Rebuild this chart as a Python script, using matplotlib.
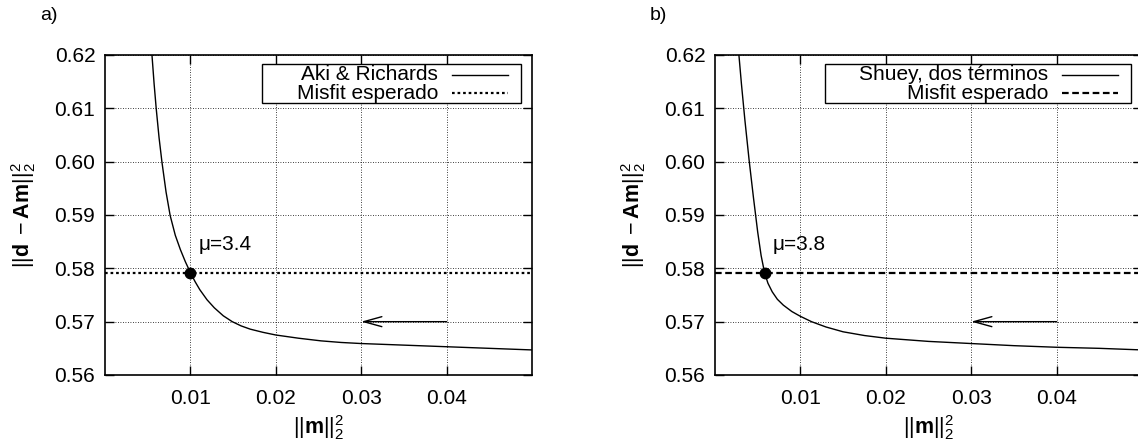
import matplotlib
matplotlib.use("Agg")
import matplotlib.pyplot as plt
from matplotlib.patches import Rectangle

plt.rcParams["font.family"] = ["Liberation Sans", "DejaVu Sans"]
plt.rcParams["mathtext.fontset"] = "custom"
plt.rcParams["mathtext.rm"] = "Liberation Sans"
plt.rcParams["mathtext.it"] = "Liberation Sans:italic"
plt.rcParams["mathtext.bf"] = "Liberation Sans:bold"

# L-curves
aki_x = [0.00550, 0.00575, 0.00600, 0.00633, 0.00667, 0.00715, 0.00763, 0.00823,
         0.00883, 0.00942, 0.01000, 0.01055, 0.01110, 0.01195, 0.01280, 0.01385,
         0.01490, 0.01595, 0.01700, 0.01850, 0.02000, 0.02265, 0.02530, 0.02765,
         0.03000, 0.03500, 0.04000, 0.04500, 0.05000]
aki_y = [0.6200, 0.6146, 0.6099, 0.6045, 0.5999, 0.5943, 0.5899, 0.5862,
         0.5835, 0.5812, 0.5792, 0.5775, 0.5760, 0.5741, 0.5726, 0.5711,
         0.5700, 0.5692, 0.5686, 0.5680, 0.5675, 0.5669, 0.5664, 0.5661,
         0.5659, 0.5656, 0.5653, 0.5650, 0.5647]

shuey_x = [0.0028, 0.0031, 0.0035, 0.0040, 0.0045, 0.0050, 0.0054, 0.0058, 0.0062,
           0.0067, 0.0073, 0.0080, 0.0090, 0.0100, 0.0113, 0.0130, 0.0150, 0.0175,
           0.0200, 0.0250, 0.0300, 0.0350, 0.0400, 0.0450, 0.0500]
shuey_y = [0.6200, 0.6145, 0.6078, 0.6002, 0.5933, 0.5868, 0.5824, 0.5792, 0.5772,
           0.5756, 0.5742, 0.5731, 0.5719, 0.5710, 0.5700, 0.5690, 0.5681, 0.5674,
           0.5669, 0.5663, 0.5659, 0.5655, 0.5652, 0.5650, 0.5647]

misfit = 0.5792
point_a = (0.0100, 0.5792)
point_b = (0.0058, 0.5792)
mu_a = 3.4
mu_b = 3.8
arrow_from = (0.04, 0.57)
arrow_to = (0.03, 0.57)

x_ticks = [0.01, 0.02, 0.03, 0.04]
y_ticks = [0.56, 0.57, 0.58, 0.59, 0.60, 0.61, 0.62]

FS = 15


def draw_panel(ax, xs, ys, point, mu, name, misfit_ls, box_left):
    ax.set_xlim(0, 0.05)
    ax.set_ylim(0.56, 0.62)
    ax.set_xticks(x_ticks)
    ax.set_xticklabels([f"{t:.2f}" for t in x_ticks])
    ax.set_yticks(y_ticks)
    ax.set_yticklabels([f"{t:.2f}" for t in y_ticks])
    ax.tick_params(direction="in", length=6.5, width=1.0, top=True, right=True,
                   labelsize=FS, colors="black")
    ax.tick_params(axis="x", pad=10)
    ax.tick_params(axis="y", pad=7)
    for s in ax.spines.values():
        s.set_linewidth(1.2)
    ax.grid(True, color="black", linestyle=(0, (1, 2)), linewidth=0.6)
    ax.set_axisbelow(True)

    ax.plot(xs, ys, color="black", lw=1.0, zorder=2)
    ax.axhline(misfit, color="black", lw=1.6, linestyle=misfit_ls, zorder=2)
    ax.plot(*point, "o", color="black", ms=7.5, zorder=4)
    ax.text(point[0] + 0.001, 0.5845, f"\u03bc={mu}", fontsize=FS, va="center")
    ax.annotate("", xy=arrow_to, xytext=arrow_from,
                arrowprops=dict(arrowstyle="->,head_length=1.3,head_width=0.36",
                                color="black", lw=1.0, shrinkA=0, shrinkB=0))

    # gnuplot style key, text right aligned, sample on the right
    ax.add_patch(Rectangle((box_left, 0.85), 0.974 - box_left, 0.122,
                           transform=ax.transAxes, facecolor="white",
                           edgecolor="black", lw=1.0, zorder=3))
    ax.text(0.78, 0.9375, name, transform=ax.transAxes, ha="right", va="center",
            fontsize=FS, zorder=5)
    ax.text(0.78, 0.881, "Misfit esperado", transform=ax.transAxes, ha="right",
            va="center", fontsize=FS, zorder=5)
    ax.plot([0.813, 0.944], [0.9375, 0.9375], transform=ax.transAxes,
            color="black", lw=1.0, zorder=5)
    ax.plot([0.813, 0.944], [0.881, 0.881], transform=ax.transAxes,
            color="black", lw=1.6, linestyle=misfit_ls, zorder=5)

    ax.set_xlabel(r"$||\mathbf{m}||_2^2$", fontsize=15.5, labelpad=4)
    ax.set_ylabel(r"$||\mathbf{d}\ -\mathbf{Am}||_2^2$", fontsize=15.5,
                  labelpad=12)


fig = plt.figure(figsize=(11.38, 4.43), dpi=100)
ax1 = fig.add_axes([105 / 1138, 68 / 443, 427 / 1138, 320 / 443])
ax2 = fig.add_axes([715 / 1138, 68 / 443, 427 / 1138, 320 / 443])

draw_panel(ax1, aki_x, aki_y, point_a, mu_a, "Aki & Richards", (0, (1.2, 1.3)), 0.368)
draw_panel(ax2, shuey_x, shuey_y, point_b, mu_b, "Shuey, dos t\u00e9rminos", (0, (3, 1.6)), 0.258)

fig.text(40 / 1138, 1 - 15 / 443, "a)", fontsize=14, va="center")
fig.text(650 / 1138, 1 - 15 / 443, "b)", fontsize=14, va="center")

fig.savefig("out.png", dpi=100)
